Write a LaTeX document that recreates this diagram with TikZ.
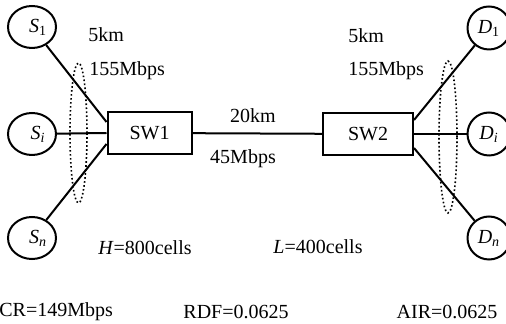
\documentclass[tikz,border=0pt]{standalone}
\usepackage{fontspec}
\setmainfont{Liberation Serif}
\usetikzlibrary{shapes.geometric}

\begin{document}
\begin{tikzpicture}[
    x=0.5pt, y=-0.5pt,
    src/.style={draw, ellipse, line width=1pt, minimum width=24pt, minimum height=21pt, inner sep=0pt},
    dst/.style={draw, circle, line width=1pt, minimum size=21.5pt, inner sep=0pt},
    swbox/.style={draw, line width=1pt, minimum height=21pt, inner sep=0pt},
    grp/.style={draw, ellipse, line width=0.8pt, dash pattern=on 0.8pt off 1.2pt, inner sep=0pt},
    lbl/.style={inner sep=0pt},
    link/.style={line width=1pt}
]
\useasboundingbox (0,0) rectangle (506,324);

% end systems
\node[src] (s1) at (32,27) {\hspace{6pt}\textit{S}\textsubscript{1}};
\node[src] (si) at (32,134) {\hspace{6pt}\textit{S}\textsubscript{\textit{i}}};
\node[src] (sn) at (32,238) {\hspace{6pt}\textit{S}\textsubscript{\textit{n}}};
\node[dst] (d1) at (489,28) {\textit{D}\textsubscript{1}};
\node[dst] (di) at (489,134) {\textit{D}\textsubscript{\textit{i}}};
\node[dst] (dn) at (489,238) {\textit{D}\textsubscript{\textit{n}}};

% switches
\node[swbox, minimum width=42pt] (sw1) at (149.5,133) {SW1};
\node[swbox, minimum width=45pt] (sw2) at (368,134) {SW2};

% groups
\node[grp, minimum width=8.5pt, minimum height=70pt] (gs) at (78.5,133) {};
\node[grp, minimum width=9pt, minimum height=76pt] (gd) at (448,137) {};

\draw[link] (s1) -- ([yshift=5.5pt]sw1.west);
\draw[link] (si) -- (sw1.west);
\draw[link] (sn) -- ([yshift=-5.5pt]sw1.west);
\draw[link] (sw1) -- (sw2);
\draw[link] ([yshift=7pt]sw2.east) -- (d1);
\draw[link] (sw2.east) -- (di);
\draw[link] ([yshift=-7pt]sw2.east) -- (dn);

% labels
\node[lbl, anchor=west] (lkm) at (88,35) {5km};
\node[lbl, anchor=west] (lbw) at (89,71) {155Mbps};
\node[lbl, anchor=west] (rkm) at (348,36) {5km};
\node[lbl, anchor=west] (rbw) at (348,71) {155Mbps};
\node[lbl] (mkm) at (253,116) {20km};
\node[lbl] (mbw) at (243,159) {45Mbps};
\node[lbl] (hth) at (145,248) {\textit{H}=800cells};
\node[lbl] (lth) at (318,247) {\textit{L}=400cells};
\node[lbl, anchor=west] (acr) at (-1,312) {CR=149Mbps};
\node[lbl] (rdf) at (236,312) {RDF=0.0625};
\node[lbl] (air) at (447,312) {AIR=0.0625};
\end{tikzpicture}
\end{document}
